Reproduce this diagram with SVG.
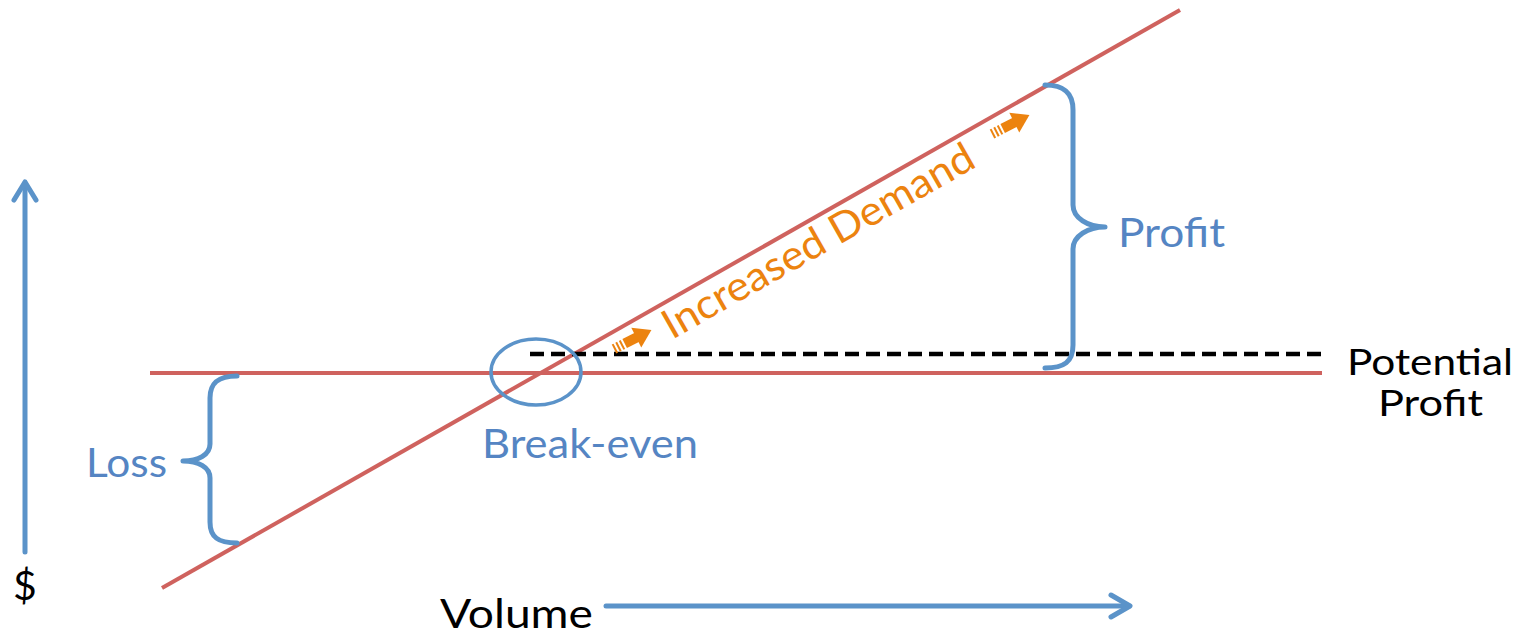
<svg xmlns="http://www.w3.org/2000/svg" width="1531" height="635" viewBox="0 0 1531 635">
<style>
.red{stroke:#cf625e;stroke-width:4;fill:none}
.blue{stroke:#5b93c9;stroke-width:5;fill:none;stroke-linecap:round;stroke-linejoin:round}
.lbl{font-family:Lato,"Open Sans","Liberation Sans",sans-serif;font-size:41px}
.pp{font-size:37px}
.bt{fill:#5585c3}
.kt{fill:#000}
.ot{fill:#ec830f}
</style>
<defs>
<g id="sarrow">
<rect x="0" y="-5" width="2" height="10"/>
<rect x="4" y="-5" width="2" height="10"/>
<rect x="8" y="-5" width="2" height="10"/>
<rect x="12" y="-5" width="15" height="10"/>
<polygon points="25,-11 42,0 25,11"/>
</g>
</defs>
<rect width="1531" height="635" fill="#fff"/>
<g id="connectors">
<line class="red" x1="162" y1="588" x2="1180" y2="10"/>
<line class="red" x1="150" y1="373" x2="1322" y2="373"/>
<line x1="530" y1="354" x2="1322" y2="354" stroke="#000" stroke-width="4.5" stroke-dasharray="14 7"/>
</g>
<g id="y-axis">
<line class="blue" x1="25" y1="552" x2="25" y2="183"/>
<polyline class="blue" points="14,200 25,182 36,200"/>
<text class="lbl kt" x="25" y="600" text-anchor="middle">$</text>
</g>
<g id="x-axis">
<line class="blue" x1="606" y1="606" x2="1129" y2="606"/>
<polyline class="blue" points="1111,595 1130,606 1111,617"/>
<text class="lbl kt" x="440" y="628" textLength="153" lengthAdjust="spacingAndGlyphs">Volume</text>
</g>
<g id="break-even">
<ellipse cx="536" cy="372" rx="45" ry="33" stroke="#5b93c9" stroke-width="3.5" fill="none"/>
<text class="lbl bt" x="482" y="458" textLength="216" lengthAdjust="spacingAndGlyphs">Break-even</text>
</g>
<g id="loss">
<path class="blue" d="M237,376 C218,376 210,383 210,398 L210,444 C210,455 198,461 183,461 C198,461 210,467 210,478 L210,522 C210,537 218,543 237,543"/>
<text class="lbl bt" x="86" y="477" textLength="81" lengthAdjust="spacingAndGlyphs">Loss</text>
</g>
<g id="profit">
<path class="blue" d="M1045,85 C1064,85 1073,93 1073,110 L1073,205 C1073,218 1088,227 1105,227 C1088,227 1073,236 1073,249 L1073,345 C1073,362 1064,368 1045,368"/>
<text class="lbl bt" x="1118" y="247" textLength="107" lengthAdjust="spacingAndGlyphs">Profit</text>
</g>
<g id="potential-profit">
<text class="lbl pp kt" x="1347" y="375" textLength="166" lengthAdjust="spacingAndGlyphs">Potential</text>
<text class="lbl pp kt" x="1378" y="416" textLength="105" lengthAdjust="spacingAndGlyphs">Profit</text>
</g>
<g id="increased-demand" fill="#ec830f">
<use href="#sarrow" transform="translate(614,349) rotate(-27)"/>
<use href="#sarrow" transform="translate(992,134) rotate(-27)"/>
<text class="lbl ot" transform="translate(672,340) rotate(-29.6)" textLength="352" lengthAdjust="spacingAndGlyphs">Increased Demand</text>
</g>
</svg>
